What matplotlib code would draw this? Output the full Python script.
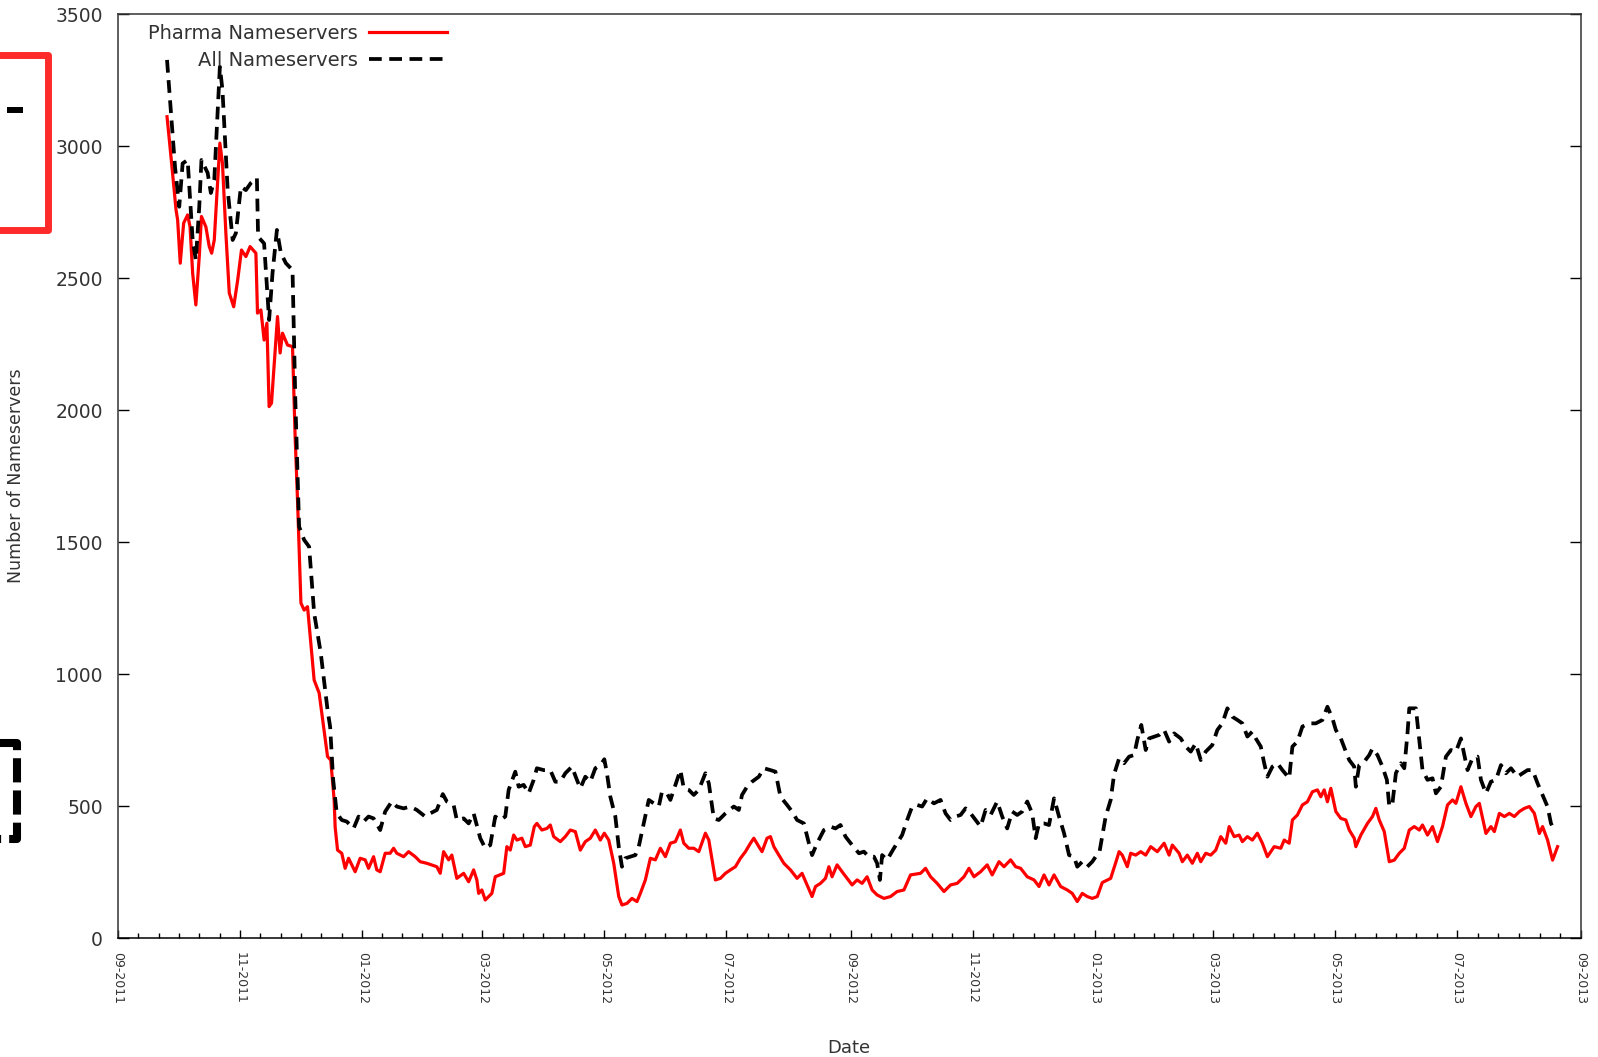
import numpy as np
import matplotlib
matplotlib.use("Agg")
import matplotlib.pyplot as plt
import matplotlib.dates as mdates
from matplotlib.lines import Line2D
from matplotlib.patches import Rectangle
from datetime import datetime

# days since 2011-09-01
pharma_days = [24.5, 26.8, 29, 29.8, 31.1, 32.8, 34.8, 36, 37.3, 38.9, 40.6, 41.7, 43.9, 45.6, 46.8, 48.1,
               50.9, 52.2, 53.9, 55.6, 57.8, 59.8, 61.7, 63.9, 66, 68.9, 69.7, 71.4, 73, 74.4, 75.5, 76.7,
               79.7, 81, 82.2, 84.7, 87.2, 88.5, 89.7, 91.4, 93, 94.7, 98, 100.5, 104.7, 106.3, 108, 108.5,
               109.7, 111.8, 113.5, 115.2, 118.5, 121, 123.5, 125.2, 127.7, 129.3, 131, 133.5, 136, 137.7,
               139.3, 142.7, 145.2, 148.5, 151, 154.3, 159.3, 161, 162.7, 165.2, 166.8, 169.3, 172.7, 175.2,
               177.7, 179.3, 180.2, 181.8, 183.5, 186.8, 188.5, 192.7, 194.3, 196, 197.7, 199.3, 201.8, 203.5,
               206, 208, 209.3, 211.8, 214.3, 216, 217.7, 221, 223.5, 226, 228.5, 231, 233.5, 236, 238.5, 241,
               243, 245.2, 247.7, 250.2, 251.8, 254.3, 256.8, 259.3, 261, 263.5, 266, 268.5, 271, 273.5, 276,
               278.5, 281, 282.7, 285.2, 287.7, 290.2, 293.5, 295.2, 298.5, 301, 303.5, 306, 308.5, 311, 313.5,
               316, 317.7, 320.2, 321.8, 324.3, 326, 327.7, 330.2, 332.7, 336, 339.3, 341.8, 344.3, 346.8,
               348.5, 351, 353.5, 355.2, 356.8, 359.3, 361.8, 364.3, 366.8, 369.3, 371.8, 374.3, 376.8, 379.3,
               382.7, 386, 389.3, 392.7, 396, 401, 403.5, 406, 409.3, 412.7, 416, 419.3, 422.7, 425.2, 427.7,
               431, 434.3, 436.8, 440.2, 442.7, 446, 448.5, 451, 454.3, 457.7, 460.2, 462.7, 465.2, 467.7, 471,
               474.3, 476.8, 479.3, 481.8, 484.3, 486.8, 489.3, 491.8, 496, 498.5, 500.2, 501.8, 504.3, 506,
               508.5, 511, 513.5, 516, 519.3, 522.7, 525.2, 526.8, 530.2, 531.8, 534.3, 536.8, 539.3, 541,
               543.5, 546, 548.5, 551, 553.5, 555.2, 557.7, 560.2, 561.8, 564.3, 566.8, 569.3, 571.8, 574.3,
               577.7, 581, 582.7, 585.2, 586.8, 589.3, 591.8, 594.3, 596.8, 599.3, 601, 602.7, 604.3, 606,
               608.5, 611, 613.5, 615.2, 617.7, 618.5, 621, 624.3, 626.8, 628.5, 630.2, 632.7, 635.2, 637.7,
               640.2, 642.7, 645.2, 647.7, 650.2, 651.8, 654.3, 656.8, 659.3, 661.8, 664.3, 666.8, 668.5, 671,
               673.5, 676, 678.5, 680.2, 683.5, 686, 687.7, 690.2, 692.7, 695.2, 697.7, 700.2, 702.7, 705.2,
               707.7, 710.2, 711.8, 714.3, 716.8, 719.3]
pharma_ns = [3111, 2934, 2758, 2720, 2556, 2708, 2739, 2694, 2518, 2398, 2581, 2733, 2694, 2619, 2594, 2644,
             3011, 2934, 2670, 2443, 2391, 2492, 2606, 2581, 2619, 2594, 2367, 2379, 2265, 2329, 2013, 2026,
             2354, 2216, 2291, 2246, 2240, 1900, 1659, 1269, 1242, 1255, 977, 928, 687, 674, 523, 420,
             333, 321, 264, 302, 251, 302, 296, 264, 308, 258, 251, 321, 321, 340,
             321, 308, 327, 308, 289, 283, 270, 245, 327, 296, 314, 226, 245, 213,
             258, 220, 169, 182, 144, 169, 232, 245, 346, 333, 390, 371, 378, 346,
             352, 422, 434, 409, 415, 428, 384, 365, 384, 409, 403, 333, 365, 378, 409, 371,
             397, 371, 283, 157, 125, 131, 150, 138, 169, 220, 302, 296, 340, 308, 359,
             365, 409, 359, 340, 340, 327, 397, 371, 220, 226, 245, 258, 270, 302, 327,
             359, 378, 346, 327, 378, 384, 346, 314, 283, 258, 226, 245, 201, 157,
             195, 207, 226, 270, 232, 277, 251, 226, 201, 220, 207, 232, 182, 163,
             150, 157, 176, 182, 239, 245, 264, 232, 207, 176, 201, 207, 232, 264, 232,
             251, 277, 239, 289, 270, 296, 270, 264, 232, 220, 195, 239, 201, 239, 195,
             182, 169, 138, 169, 157, 150, 157, 210, 226, 285, 327, 314, 270, 321,
             314, 327, 314, 346, 327, 359, 314, 352, 321, 289, 314, 283, 321, 289,
             321, 314, 333, 384, 359, 422, 384, 390, 365, 384, 371, 397, 359, 308,
             346, 340, 371, 359, 447, 466, 504, 516, 554, 561, 535, 561, 516, 567,
             479, 453, 447, 409, 378, 346, 390, 434, 460, 491, 447, 403, 289, 295,
             321, 340, 409, 422, 409, 428, 390, 422, 365, 422, 504, 523, 510, 573,
             510, 460, 498, 510, 396, 422, 403, 472, 460, 472, 460, 479, 491, 498,
             472, 396, 422, 371, 295, 346]

all_days = [24.5, 28.5, 30.6, 32.3, 34.8, 37.3, 38.9, 40.6, 41.7, 44.8, 46.4, 48.1, 50.9, 52.2, 54.8, 57.3,
            58.9, 61.4, 63.9, 66.4, 69.4, 70.0, 73, 75.5, 77.2, 79.4, 81.4, 83.9, 87.2, 88.0, 88.6, 90.5,
            93, 95.5, 98, 101.3, 104.7, 106, 107.5, 109.3, 111.8, 114.3, 117.7, 120.2, 122.7, 125.2, 127.7,
            131, 133.5, 136.8, 139.3, 142.7, 146, 149.3, 153.5, 156, 159.3, 162.3, 164.3, 167.7, 169.3,
            172.7, 175.2, 177.7, 181, 183.5, 186, 188.5, 191, 193.5, 195.2, 198.5, 200.2, 202.7, 205.2,
            207.7, 209.3, 212.7, 216, 218.5, 221, 223.5, 226.8, 229.3, 231, 233.5, 236, 238.5, 241, 243,
            244.3, 246, 248.5, 250.2, 251.8, 253.5, 256, 258.5, 260.2, 262.7, 265.2, 267.7, 270.2, 271.8,
            274.3, 276, 278.5, 281, 282.7, 285.2, 287.7, 290.2, 293.5, 295.2, 297.7, 300.2, 303.5, 307.7,
            310.2, 311.8, 314.3, 316.8, 320.2, 322.7, 326, 328.5, 331, 334.3, 336.8, 339.3, 342.7, 345.2,
            346.8, 349.3, 352.7, 356, 358.5, 361, 363.5, 366.8, 370.2, 372.7, 375.2, 377.7, 379.3, 380.7,
            381.8, 384.3, 387.7, 391.8, 394.3, 396.8, 399.3, 401.8, 404.3, 407.7, 411, 413.5, 416, 418.5,
            421, 423.5, 426, 428.5, 431, 433.5, 436, 439.3, 441.8, 444.3, 446.8, 449.3, 451.8, 454.3, 456.8,
            458.5, 460.2, 462.7, 465.2, 467.7, 470.2, 472.7, 475.2, 477.7, 479.3, 481.8, 484.3, 486.8,
            490.5, 493.5, 496, 497.7, 500.2, 502.7, 505.2, 507.7, 509.3, 511.3, 513.5, 515.2, 520.2, 522.7,
            525.2, 527.7, 531, 533.5, 536, 538.5, 541, 543.5, 546.8, 549.3, 551.8, 554.3, 556.8, 559.3,
            561.8, 564.3, 566.8, 568.5, 571, 572.7, 574.3, 576.8, 579.3, 581.8, 585.2, 586.8, 589.3, 591.8,
            595.2, 598.5, 601.8, 604.3, 606.8, 608.5, 611, 613.5, 615.2, 617.7, 618.5, 620.2, 622.7, 625.2,
            626.8, 629.3, 631.8, 634, 635.2, 636.8, 638.5, 641, 642.7, 644.3, 645.2, 648.5, 650.2, 651.8,
            654.3, 656.8, 658.5, 661, 663.5, 666, 668.5, 671, 672.7, 674.3, 676.8, 679.3, 681, 683.5, 686,
            688.5, 691, 693.5, 696, 699.3, 701.8, 704.3, 706.8, 709.3, 711.8, 714.3, 716, 717.5]
all_ns = [3326, 2920, 2770, 2934, 2947, 2644, 2568, 2770, 2947, 2898, 2822, 2871, 3300, 3212, 2833, 2644,
          2670, 2846, 2833, 2860, 2879, 2656, 2631, 2341, 2518, 2682, 2594, 2556, 2530, 2240, 2038, 1558,
          1508, 1482, 1231, 1080, 864, 800, 600, 472, 447, 441, 415, 460, 441, 460, 453,
          409, 479, 517, 498, 491, 498, 485, 460, 472, 485, 545, 517, 504, 447,
          453, 434, 472, 378, 340, 352, 460, 447, 460, 561, 630, 573, 580, 548,
          599, 643, 636, 636, 592, 592, 624, 649, 599, 567, 611, 592, 643, 655, 677,
          624, 535, 460, 346, 270, 302, 308, 314, 346, 434, 523, 510, 498, 554,
          548, 523, 580, 636, 567, 561, 542, 561, 624, 586, 453, 447, 472, 498,
          485, 542, 573, 592, 611, 643, 636, 630, 535, 504, 479, 447, 434, 359,
          314, 359, 409, 422, 415, 428, 384, 352, 321, 327, 308, 308, 283, 220,
          314, 296, 340, 390, 447, 498, 504, 498, 529, 510, 523, 472, 447, 460,
          466, 491, 472, 447, 422, 485, 466, 517, 460, 415, 479, 466, 479, 517, 472,
          378, 434, 434, 428, 529, 460, 397, 314, 308, 270, 289, 270, 289,
          330, 460, 523, 620, 680, 662, 687, 693, 750, 807, 712, 756, 769, 788,
          744, 775, 756, 725, 706, 737, 674, 706, 731, 788, 813, 870, 838, 826,
          813, 763, 782, 756, 725, 662, 611, 649, 662, 636, 605, 725, 744, 801,
          813, 813, 826, 876, 832, 788, 756, 706, 674, 649, 573, 655, 668, 693,
          718, 693, 649, 599, 498, 510, 624, 662, 643, 775, 870, 870, 750, 636,
          599, 605, 548, 573, 687, 712, 706, 756, 693, 636, 681, 687, 599, 548, 592,
          599, 655, 624, 643, 611, 624, 636, 636, 586, 542, 497, 434, 410]

W, H = 1598, 1057
TXT = "#333333"
plt.rcParams['font.family'] = ['DejaVu Sans']

fig = plt.figure(figsize=(W / 100, H / 100), dpi=100)
ax = fig.add_axes([118 / W, 1 - 938 / H, (1581 - 118) / W, (938 - 14) / H])

start = mdates.date2num(datetime(2011, 9, 1))
end = mdates.date2num(datetime(2013, 9, 1))
px = start + np.array(pharma_days)
ax_ = start + np.array(all_days)

ax.plot(px, pharma_ns, color="#ff0000", lw=2.3, label="Pharma Nameservers")
ax.plot(ax_, all_ns, color="black", lw=2.7, linestyle=(0, (3.4, 2)), label="All Nameservers")

ax.set_xlim(start, end)
ax.set_ylim(0, 3500)

months = [datetime(2011, 9, 1), datetime(2011, 11, 1), datetime(2012, 1, 1), datetime(2012, 3, 1),
          datetime(2012, 5, 1), datetime(2012, 7, 1), datetime(2012, 9, 1), datetime(2012, 11, 1),
          datetime(2013, 1, 1), datetime(2013, 3, 1), datetime(2013, 5, 1), datetime(2013, 7, 1),
          datetime(2013, 9, 1)]
major = mdates.date2num(months)
minor = []
for a, b in zip(major[:-1], major[1:]):
    minor += list(np.linspace(a, b, 7)[1:-1])
ax.set_xticks(major)
ax.set_xticklabels([m.strftime("%m-%Y") for m in months], rotation=270, fontsize=9, color=TXT,
                   va="top", ha="center")
ax.set_xticks(minor, minor=True)
ax.set_yticks(np.arange(0, 3501, 500))
ax.set_yticklabels([str(v) for v in range(0, 3501, 500)], fontsize=13.5, color=TXT)

ax.tick_params(axis="x", which="major", direction="in", length=6, width=1, pad=10, top=False)
ax.tick_params(axis="x", which="minor", direction="in", length=3.6, width=1, top=False)
ax.tick_params(axis="y", which="major", direction="in", length=8, width=1, pad=11, right=True)
for s in ax.spines.values():
    s.set_color("#333333")
    s.set_linewidth(1.1)
ax.spines["bottom"].set_color("black")

fig.text(16 / W, 1 - 476 / H, "Number of Nameservers", rotation=90, fontsize=12.5, color=TXT,
         ha="center", va="center")
fig.text(849 / W, 1 - 1048 / H, "Date", fontsize=13, color=TXT, ha="center", va="center")

leg = ax.legend(loc="upper right", bbox_to_anchor=(447 / W, 1 - 24 / H), bbox_transform=fig.transFigure,
                frameon=False, markerfirst=False, fontsize=14, handlelength=4.0, handletextpad=0.6,
                labelspacing=0.42, borderpad=0, borderaxespad=0)
for t in leg.get_texts():
    t.set_color(TXT)

# stray marks at the left edge of the picture
fig.add_artist(Rectangle((-20 / W, 1 - 230 / H), 68 / W, 175 / H, transform=fig.transFigure,
                         fill=False, edgecolor="#ff2a2a", lw=5.0, joinstyle="round", clip_on=False))
fig.add_artist(Line2D([7 / W, 23 / W], [1 - 110 / H, 1 - 110 / H], transform=fig.transFigure,
                      color="black", lw=4.3, solid_capstyle="butt"))
fig.add_artist(Line2D([0, 17 / W, 17 / W, 0], [1 - 743 / H, 1 - 743 / H, 1 - 839 / H, 1 - 839 / H],
                      transform=fig.transFigure, color="black", lw=5.8, linestyle=(0, (3, 1)),
                      dash_capstyle="butt"))

fig.savefig("out.png", dpi=100)
